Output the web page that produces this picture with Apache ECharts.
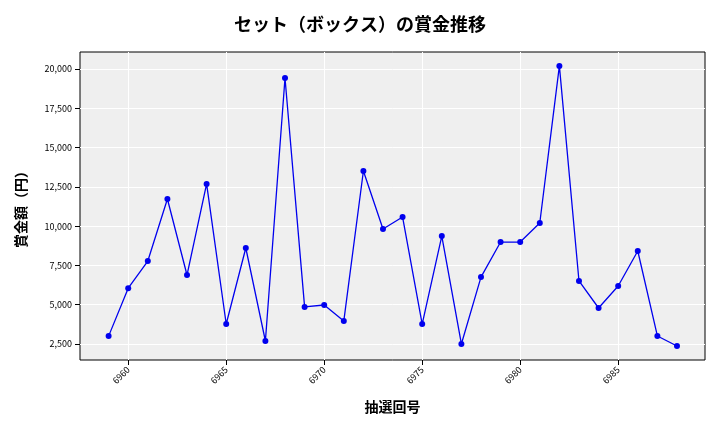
<!DOCTYPE html>
<html><head><meta charset="utf-8">
<script src="https://cdn.jsdelivr.net/npm/echarts@6/dist/echarts.min.js"></script>
<style>body{margin:0}#c{width:720px;height:432px}</style></head>
<body><div id="c"></div>
<script>
const draws=[6959,6960,6961,6962,6963,6964,6965,6966,6967,6968,6969,6970,6971,6972,6973,6974,6975,6976,6977,6978,6979,6980,6981,6982,6983,6984,6985,6986,6987,6988];
const prizes=[3000,6050,7780,11730,6890,12690,3770,8610,2690,19430,4860,4980,3960,13510,9820,10580,3770,9370,2500,6760,8990,8990,10200,20200,6510,4790,6190,8420,3010,2370];
const xTicks=[6960,6965,6970,6975,6980,6985];
const yTicks=[2500,5000,7500,10000,12500,15000,17500,20000];
const font='"Noto Sans CJK JP", sans-serif';
const c=echarts.init(document.getElementById('c'));
c.setOption({
 animation:false,
 title:{text:'セット（ボックス）の賞金推移',left:'center',top:10,textStyle:{fontFamily:font,fontSize:18,fontWeight:'bold',color:'#000'}},
 grid:{left:80,right:15,top:52,bottom:72,backgroundColor:'#efefef',show:true,borderWidth:1,borderColor:'#000'},
 xAxis:{type:'value',min:6957.54,max:6989.43,name:'抽選回号',nameLocation:'middle',nameGap:40,
  nameTextStyle:{fontFamily:font,fontSize:14,fontWeight:'bold',color:'#000'},
  axisLine:{show:false},axisTick:{show:true,customValues:xTicks,lineStyle:{color:'#000'}},
  axisLabel:{customValues:xTicks,rotate:45,fontSize:9,color:'#000',fontFamily:font,formatter:v=>String(v)},
  splitLine:{show:true,lineStyle:{color:'#fff'}}},
 yAxis:{type:'value',min:1480,max:21087,name:'賞金額（円）',nameLocation:'middle',nameGap:52,
  nameTextStyle:{fontFamily:font,fontSize:14,fontWeight:'bold',color:'#000'},
  axisLine:{show:false},axisTick:{show:true,customValues:yTicks,lineStyle:{color:'#000'}},
  axisLabel:{customValues:yTicks,fontSize:9,color:'#000',fontFamily:font,formatter:v=>v.toLocaleString('en-US')},
  splitLine:{show:true,lineStyle:{color:'#fff'}}},
 series:[{type:'line',data:draws.map((d,i)=>[d,prizes[i]]),symbol:'circle',symbolSize:6,
  lineStyle:{color:'#0000ee',width:1.3},itemStyle:{color:'#0000ee'}}]
});
</script></body></html>
